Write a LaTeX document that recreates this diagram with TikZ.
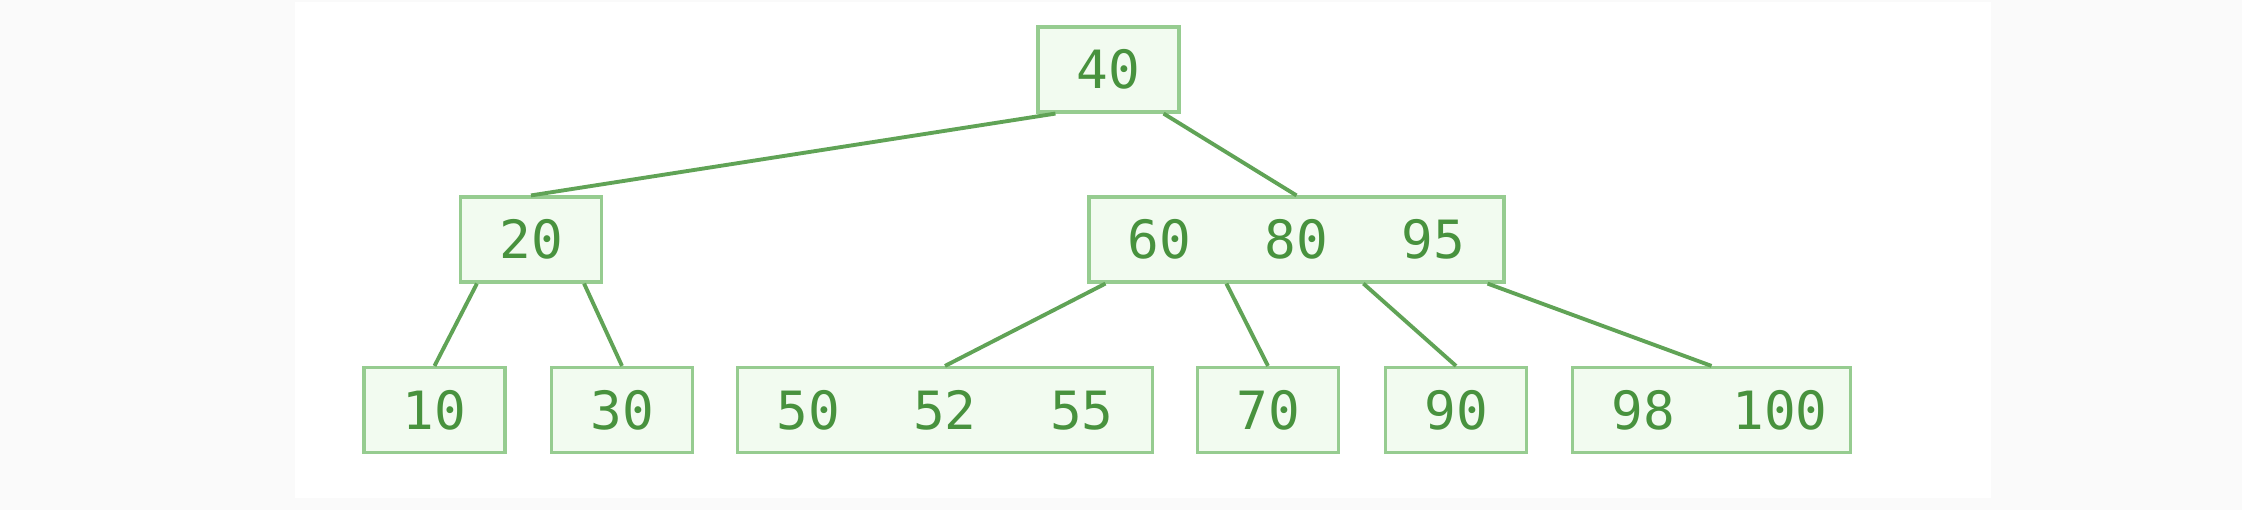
\documentclass[tikz,border=0pt]{standalone}
\usepackage{fontspec}
\setmonofont{DejaVu Sans Mono}
\usetikzlibrary{positioning,calc}
\definecolor{treeline}{RGB}{96,163,86}
\definecolor{treeedge}{RGB}{150,204,144}
\definecolor{treefill}{RGB}{242,251,240}
\definecolor{treetext}{RGB}{72,146,62}
\definecolor{pagegrey}{RGB}{250,250,250}
\newcommand{\kc}[1]{\makebox[1.37cm]{#1}}
\tikzset{
  keybox/.style={draw=treeedge,line width=0.9pt,fill=treefill,text=treetext,
    minimum height=0.85cm,inner xsep=0.02cm,inner ysep=0pt,
    font=\ttfamily\fontsize{15}{17}\selectfont},
  link/.style={draw=treeline,line width=1.1pt}
}

\begin{document}
\begin{tikzpicture}[x=1cm,y=1cm]
  % page and panel
  \fill[pagegrey] (0,0) rectangle (22.42,5.10);
  \fill[white] (2.95,0.12) rectangle (19.91,5.08);
  \useasboundingbox (0,0) rectangle (22.42,5.10);
  % root
  \node[keybox] (n40) at (11.085,4.405) {\kc{40}};
  % inner level
  \node[keybox] (n20) at (5.31,2.705) {\kc{20}};
  \node[keybox] (n60) at (12.965,2.705) {\kc{60}\kc{80}\kc{95}};
  % leaves
  \node[keybox] (n10) at (4.345,1.0) {\kc{10}};
  \node[keybox] (n30) at (6.22,1.0) {\kc{30}};
  \node[keybox] (n50) at (9.45,1.0) {\kc{50}\kc{52}\kc{55}};
  \node[keybox] (n70) at (12.68,1.0) {\kc{70}};
  \node[keybox] (n90) at (14.56,1.0) {\kc{90}};
  \node[keybox] (n98) at (17.115,1.0) {\kc{98}\kc{100}};
  % pointers from root
  \draw[link] ($(n40.south west)+(0.19,0)$) -- (n20.north);
  \draw[link] ($(n40.south east)+(-0.17,0)$) -- (n60.north);
  % pointers from 20
  \draw[link] ($(n20.south west)+(0.18,0)$) -- (n10.north);
  \draw[link] ($(n20.south east)+(-0.19,0)$) -- (n30.north);
  % pointers from 60 80 95
  \draw[link] ($(n60.south west)+(0.18,0)$) -- (n50.north);
  \draw[link] ($(n60.south west)+(1.39,0)$) -- (n70.north);
  \draw[link] ($(n60.south west)+(2.76,0)$) -- (n90.north);
  \draw[link] ($(n60.south east)+(-0.18,0)$) -- (n98.north);
\end{tikzpicture}
\end{document}
